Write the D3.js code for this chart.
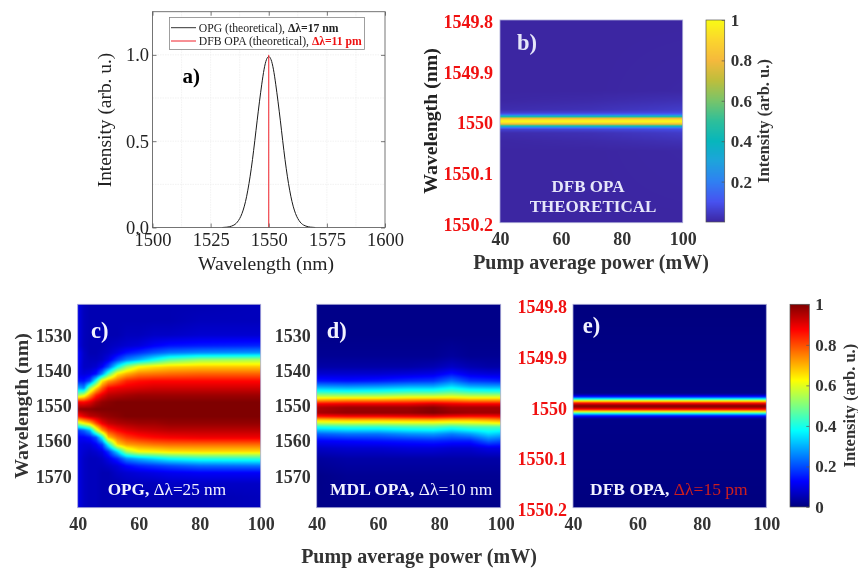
<!DOCTYPE html>
<html><head><meta charset="utf-8">
<script src="https://cdn.jsdelivr.net/npm/d3@7"></script>
<style>
html,body{margin:0;padding:0;background:#fff}
svg{display:block;font-family:"Liberation Serif",serif;filter:blur(0.35px)}
svg .domain{display:none}
</style></head><body><div id="chart"></div>
<script>
// ---------- panel a ----------
const spectrumWavelengths = [1530,1532,1534,1535,1536,1537,1538,1539,1540,1541,1542,1543,1544,1545,1546,1547,1548,1549,1550,1551,1552,1553,1554,1555,1556,1557,1558,1559,1560,1561,1562,1563,1564,1565,1566,1568,1570];
const spectrumOPG = [0,.002,.008,.014,.024,.041,.065,.101,.150,.216,.297,.393,.503,.618,.728,.83,.917,.972,.99,.972,.917,.83,.728,.618,.503,.393,.297,.216,.150,.101,.065,.041,.024,.014,.008,.002,0];
const lineDFBx = [1550,1550];
const lineDFBy = [0,1];
const aXTicks = [1500,1525,1550,1575,1600];
const aYTicks = [0,0.5,1];
// ---------- panel b (DFB OPA theoretical) ----------
const bPowers = [40,70,100];
const bWavelengths = [1549.8,1549.94,1549.96,1549.977,1549.984,1549.987,1549.990,1549.992,1549.994,1549.997,1550,1550.003,1550.006,1550.008,1550.010,1550.013,1550.016,1550.023,1550.04,1550.06,1550.2];
const bIntensity = [
 [0,0,.003,.015,.06,.16,.36,.56,.76,.93,1,.93,.76,.56,.36,.16,.06,.015,.003,0,0],
 [0,0,.01,.025,.07,.17,.36,.56,.76,.93,1,.93,.76,.56,.36,.17,.07,.025,.01,0,0],
 [0,.004,.025,.05,.085,.18,.37,.57,.77,.93,1,.93,.77,.57,.37,.18,.085,.05,.025,.004,0]
];
// ---------- panel c (OPG) ----------
const cPowers = [40,42,44,46,48,50,53,56,60,65,70,80,100];
const cWavelengths = [1521,1526,1530,1533,1535,1537,1539,1541,1543,1545,1547,1549,1551,1553,1555,1557,1559,1561,1563,1565,1567,1569,1572,1576,1579];
const cIntensity = [
 [.10,.10,.10,.10,.13,.13,.12,.11,.15,.30,.52,.88,.98,.85,.55,.18,.12,.10,.10,.10,.10,.10,.10,.10,.10],
 [.06,.06,.06,.06,.07,.07,.07,.09,.14,.26,.58,.87,.99,.90,.62,.22,.12,.09,.08,.07,.07,.07,.07,.07,.07],
 [.05,.05,.05,.05,.05,.06,.07,.10,.20,.52,.72,.90,.99,.94,.68,.30,.14,.09,.07,.06,.06,.06,.06,.06,.06],
 [.05,.05,.05,.05,.05,.06,.08,.14,.40,.66,.84,.95,1,.95,.80,.55,.20,.12,.08,.06,.06,.06,.06,.06,.06],
 [.05,.05,.05,.05,.06,.07,.12,.26,.64,.78,.90,.98,1,.97,.89,.72,.38,.18,.10,.07,.06,.05,.05,.05,.05],
 [.05,.05,.05,.06,.07,.10,.20,.44,.72,.87,.94,.99,1,.98,.93,.82,.68,.38,.17,.10,.07,.05,.05,.05,.05],
 [.05,.05,.05,.07,.10,.18,.38,.64,.78,.89,.95,1,1,.99,.95,.87,.77,.66,.34,.16,.09,.07,.05,.05,.05],
 [.05,.05,.06,.08,.14,.25,.52,.70,.84,.90,.96,1,1,1,.96,.90,.82,.72,.54,.26,.13,.08,.06,.05,.05],
 [.05,.05,.06,.09,.17,.30,.62,.75,.86,.91,.97,1,1,1,.97,.92,.85,.74,.62,.30,.16,.09,.06,.05,.05],
 [.05,.05,.07,.12,.21,.38,.65,.76,.87,.92,.97,1,1,1,.97,.93,.87,.76,.63,.34,.18,.10,.06,.05,.05],
 [.05,.05,.07,.14,.24,.46,.67,.77,.87,.92,.97,1,1,1,.98,.94,.88,.77,.65,.38,.20,.11,.07,.05,.05],
 [.05,.06,.08,.15,.26,.52,.68,.78,.87,.92,.97,1,1,1,.98,.94,.89,.77,.66,.41,.23,.12,.07,.05,.05],
 [.06,.06,.08,.16,.27,.54,.68,.78,.87,.92,.97,1,1,1,.98,.94,.89,.77,.66,.42,.24,.12,.07,.06,.06]
];
// ---------- panel d (MDL OPA) ----------
const dPowers = [40,50,60,70,78,84,90,96,100];
const dWavelengths = [1521,1530,1536,1539,1541,1543,1544.5,1546,1547.5,1548.5,1549.5,1550.5,1552,1553,1554,1555,1556,1558,1560,1562,1565,1570,1579];
const dIntensity = [
 [.01,.01,.02,.04,.08,.15,.27,.40,.58,.72,.88,.95,.96,.86,.68,.56,.40,.22,.12,.07,.03,.01,.01],
 [.01,.01,.02,.04,.08,.14,.26,.39,.58,.74,.89,.97,.98,.88,.70,.57,.42,.24,.13,.08,.04,.02,.01],
 [.01,.01,.02,.04,.08,.15,.27,.40,.58,.74,.89,.97,.98,.88,.70,.57,.42,.24,.14,.08,.04,.02,.01],
 [.01,.01,.02,.04,.09,.17,.29,.42,.60,.75,.89,.97,.98,.89,.71,.58,.44,.27,.15,.09,.04,.02,.01],
 [.01,.01,.02,.05,.10,.18,.29,.42,.60,.76,.91,.99,1,.90,.72,.58,.45,.28,.16,.09,.04,.02,.01],
 [.01,.01,.03,.07,.14,.24,.34,.45,.61,.75,.89,.96,.98,.88,.70,.57,.42,.25,.15,.08,.04,.02,.01],
 [.01,.01,.02,.05,.10,.18,.29,.42,.59,.73,.88,.96,.97,.87,.70,.58,.45,.28,.15,.08,.04,.02,.01],
 [.01,.01,.02,.04,.09,.17,.28,.41,.59,.73,.88,.96,.97,.87,.72,.60,.45,.34,.22,.10,.04,.02,.01],
 [.01,.01,.02,.04,.09,.16,.28,.41,.59,.73,.88,.96,.97,.88,.74,.62,.45,.32,.20,.10,.04,.02,.01]
];
// ---------- panel e (DFB OPA) ----------
const ePowers = [40,100];
const eWavelengths = [1549.8,1549.974,1549.978,1549.982,1549.986,1549.990,1549.993,1549.996,1550,1550.004,1550.007,1550.010,1550.014,1550.018,1550.022,1550.026,1550.2];
const eIntensity = [
 [0,.01,.06,.18,.40,.65,.82,.93,1,.93,.82,.65,.40,.18,.06,.01,0],
 [0,.01,.06,.18,.40,.65,.82,.93,1,.93,.82,.65,.40,.18,.06,.01,0]
];
// ---------- ticks and colour maps ----------
const powerTicks = [40,60,80,100];
const nmTicks = [1530,1540,1550,1560,1570];
const pmTicks = [1549.8,1549.9,1550,1550.1,1550.2];
const barTicksB = [.2,.4,.6,.8,1];
const barTicksE = [0,.2,.4,.6,.8,1];
const jetStops = [0,.125,.375,.625,.875,1];
const jetColors = ["#00007f","#0000ff","#00ffff","#ffff00","#ff0000","#7f0000"];
const parulaStops = [0,.1,.2,.3,.4,.5,.6,.7,.8,.9,1];
const parulaColors = ["#3c26a2","#4752f0","#2f80f2","#1ea3dc","#07b6bc","#2ebf9a","#78c46a","#bdbe3c","#f5b93c","#fbd52d","#f9fb15"];

const jet = d3.scaleLinear().domain(jetStops).range(jetColors).clamp(true);
const parula = d3.scaleLinear().domain(parulaStops).range(parulaColors).clamp(true);

const W = 858, H = 568;
const svg = d3.select("#chart").append("svg").attr("width",W).attr("height",H).attr("viewBox",`0 0 ${W} ${H}`);
const GREY = "#333333", RED = "#f01010";

function sample(xs, ys, m, x, y){
  const i = Math.max(0, Math.min(xs.length-2, d3.bisectRight(xs,x)-1));
  const j = Math.max(0, Math.min(ys.length-2, d3.bisectRight(ys,y)-1));
  const tx = Math.max(0,Math.min(1,(x-xs[i])/(xs[i+1]-xs[i])));
  const ty = Math.max(0,Math.min(1,(y-ys[j])/(ys[j+1]-ys[j])));
  const a = m[i][j]*(1-ty)+m[i][j+1]*ty, b = m[i+1][j]*(1-ty)+m[i+1][j+1]*ty;
  return a*(1-tx)+b*tx;
}
function paint(width,height,fn){
  const c = document.createElement("canvas"); c.width=width; c.height=height;
  const ctx = c.getContext("2d");
  for(let py=0;py<height;py++) for(let px=0;px<width;px++){
    ctx.fillStyle = fn(px+.5,py+.5); ctx.fillRect(px,py,1,1);
  }
  return c.toDataURL();
}
function heat(o){
  const g = svg.append("g");
  const x = d3.scaleLinear().domain([40,100]).range([o.x0,o.x1]);
  const y = d3.scaleLinear().domain(o.yDomain).range([o.y0,o.y1]);
  const w = Math.round(o.x1-o.x0), h = Math.round(o.y1-o.y0);
  const href = paint(w,h,(px,py)=>o.color(sample(o.powers,o.wl,o.m,x.invert(o.x0+px),y.invert(o.y0+py))));
  g.append("image").attr("x",o.x0).attr("y",o.y0).attr("width",o.x1-o.x0).attr("height",o.y1-o.y0).attr("preserveAspectRatio","none").attr("href",href);
  g.append("rect").attr("x",o.x0).attr("y",o.y0).attr("width",o.x1-o.x0).attr("height",o.y1-o.y0).attr("fill","none").attr("stroke","#a9a9d6").attr("stroke-width",.8);
  const ax = g.append("g").attr("transform",`translate(0,${o.y1})`).call(d3.axisBottom(x).tickValues(powerTicks).tickSize(0).tickPadding(10).tickFormat(d3.format("d")));
  ax.selectAll("text").attr("fill",GREY).attr("font-size",18).attr("font-weight","bold").attr("font-family","Liberation Serif");
  const ay = g.append("g").attr("transform",`translate(${o.x0},0)`).call(d3.axisLeft(y).tickValues(o.yTicks).tickSize(0).tickPadding(o.pad).tickFormat(d=>String(d)));
  ay.selectAll("text").attr("fill",o.tickColor).attr("font-size",18).attr("font-weight","bold").attr("font-family","Liberation Serif").attr("dy",o.tickDy);
  return {x,y};
}
function colorbar(o){
  const g = svg.append("g");
  const y = d3.scaleLinear().domain([0,1]).range([o.y1,o.y0]);
  const w = Math.round(o.x1-o.x0), h = Math.round(o.y1-o.y0);
  const href = paint(w,h,(px,py)=>o.color(y.invert(o.y0+py)));
  g.append("image").attr("x",o.x0).attr("y",o.y0).attr("width",o.x1-o.x0).attr("height",o.y1-o.y0).attr("preserveAspectRatio","none").attr("href",href);
  g.append("rect").attr("x",o.x0).attr("y",o.y0).attr("width",o.x1-o.x0).attr("height",o.y1-o.y0).attr("fill","none").attr("stroke","#555").attr("stroke-width",.7);
  const ay = g.append("g").attr("transform",`translate(${o.x1},0)`).call(d3.axisRight(y).tickValues(o.ticks).tickSize(-3).tickPadding(o.pad).tickFormat(d=>String(d)));
  ay.selectAll("line").attr("stroke","#555").attr("stroke-width",.7);
  ay.selectAll("text").attr("fill",GREY).attr("font-size",17).attr("font-weight","bold").attr("font-family","Liberation Serif");
  label(o.labelX,(o.y0+o.y1)/2,"Intensity (arb. u.)",{size:16.5,weight:"bold",fill:GREY,rotate:true});
}
function label(x,y,t,s={}){
  const e = svg.append("text").attr("font-size",s.size||16).attr("font-weight",s.weight||"normal").attr("fill",s.fill||"#000").attr("text-anchor",s.anchor||"middle");
  if(s.rotate) e.attr("transform",`translate(${x},${y}) rotate(-90)`); else e.attr("x",x).attr("y",y);
  if(Array.isArray(t)) t.forEach(p=>e.append("tspan").attr("font-weight",p.weight||"normal").attr("fill",p.fill||s.fill||"#000").text(p.text));
  else e.text(t);
  return e;
}

// ---------- panel a ----------
(function(){
  const x0=152.5,x1=385,y0=11.7,y1=227.5;
  const x=d3.scaleLinear().domain([1500,1600]).range([x0,x1]);
  const y=d3.scaleLinear().domain([0,1.25]).range([y1,y0]);
  const g=svg.append("g");
  const gx=d3.range(1512.5,1600,12.5), gy=d3.range(.25,1.25,.25);
  g.selectAll(".gx").data(gx).join("line").attr("x1",d=>x(d)).attr("x2",d=>x(d)).attr("y1",y0).attr("y2",y1).attr("stroke","#ececec").attr("stroke-width",.7).attr("stroke-dasharray","1.5 1");
  g.selectAll(".gy").data(gy).join("line").attr("y1",d=>y(d)).attr("y2",d=>y(d)).attr("x1",x0).attr("x2",x1).attr("stroke","#ececec").attr("stroke-width",.7).attr("stroke-dasharray","1.5 1");
  const line=d3.line().x(d=>x(d[0])).y(d=>y(d[1])).curve(d3.curveMonotoneX);
  g.append("path").attr("d",line(d3.zip(spectrumWavelengths,spectrumOPG))).attr("fill","none").attr("stroke","#1a1a1a").attr("stroke-width",1);
  g.append("path").attr("d",d3.line().x(d=>x(d[0])).y(d=>y(d[1]))(d3.zip(lineDFBx,lineDFBy))).attr("fill","none").attr("stroke","#f0202a").attr("stroke-width",1);
  g.append("rect").attr("x",x0).attr("y",y0).attr("width",x1-x0).attr("height",y1-y0).attr("fill","none").attr("stroke","#666").attr("stroke-width",.9);
  const ax=g.append("g").attr("transform",`translate(0,${y1})`).call(d3.axisBottom(x).tickValues(aXTicks).tickSize(-4).tickPadding(5).tickFormat(d3.format("d")));
  const ay=g.append("g").attr("transform",`translate(${x0},0)`).call(d3.axisLeft(y).tickValues(aYTicks).tickSize(-4).tickPadding(3.5).tickFormat(d3.format(".1f")));
  g.append("g").attr("transform",`translate(0,${y0})`).call(d3.axisTop(x).tickValues(aXTicks).tickSize(-4).tickFormat(""));
  g.append("g").attr("transform",`translate(${x1},0)`).call(d3.axisRight(y).tickValues(aYTicks).tickSize(-4).tickFormat(""));
  g.selectAll("g.tick line").attr("stroke","#555").attr("stroke-width",.8);
  [ax,ay].forEach(a=>a.selectAll("text").attr("fill","#222").attr("font-size",18.5).attr("font-family","Liberation Serif"));
  label(266,270,"Wavelength (nm)",{size:19.6,fill:"#222"});
  label(111,120,"Intensity (arb. u.)",{size:19.4,fill:"#222",rotate:true});
  label(182.5,83,"a)",{size:21,weight:"bold",anchor:"start"});
  // legend
  g.append("rect").attr("x",169.5).attr("y",17.5).attr("width",195).attr("height",32).attr("fill","#fff").attr("stroke","#888").attr("stroke-width",.8);
  g.append("line").attr("x1",171).attr("x2",196).attr("y1",27.7).attr("y2",27.7).attr("stroke","#333").attr("stroke-width",1);
  g.append("line").attr("x1",171).attr("x2",196).attr("y1",41).attr("y2",41).attr("stroke","#f0202a").attr("stroke-width",1);
  label(198.7,31.5,[{text:"OPG (theoretical), "},{text:"Δλ=17 nm",weight:"bold"}],{size:11.7,anchor:"start",fill:"#222"});
  label(198.7,45,[{text:"DFB OPA (theoretical), "},{text:"Δλ=11 pm",weight:"bold",fill:"#ee1111"}],{size:11.7,anchor:"start",fill:"#222"});
})();

// ---------- panel b ----------
heat({x0:500,x1:682.7,y0:20,y1:222.7,yDomain:[1549.8,1550.2],yTicks:pmTicks,powers:bPowers,wl:bWavelengths,m:bIntensity,color:parula,pad:7,tickColor:RED,tickDy:"0.42em"});
colorbar({x0:706,x1:724.7,y0:20,y1:222,color:parula,ticks:barTicksB,pad:6,labelX:769});
label(517,50,"b)",{size:22.5,weight:"bold",fill:"#e6e6fa",anchor:"start"});
label(588,191.7,"DFB OPA",{size:17,weight:"bold",fill:"#e6e6fa"});
label(593,211.7,"THEORETICAL",{size:17,weight:"bold",fill:"#e6e6fa"});
label(437,121,"Wavelength (nm)",{size:19.8,weight:"bold",fill:"#222",rotate:true});
label(591,269,"Pump average power (mW)",{size:20,weight:"bold",fill:GREY});

// ---------- panel c ----------
heat({x0:77.7,x1:260.7,y0:304.3,y1:507.7,yDomain:[1521.3,1579],yTicks:nmTicks,powers:cPowers,wl:cWavelengths,m:cIntensity,color:jet,pad:6,tickColor:GREY,tickDy:"0.34em"});
label(91,338,"c)",{size:22.5,weight:"bold",fill:"#f2f2ff",anchor:"start"});
label(107.7,495,[{text:"OPG, ",weight:"bold"},{text:"Δλ=25 nm"}],{size:17.2,fill:"#f2f2ff",anchor:"start"});
label(28,406,"Wavelength (nm)",{size:19.8,weight:"bold",fill:GREY,rotate:true});

// ---------- panel d ----------
heat({x0:316.7,x1:500.7,y0:304.3,y1:507.7,yDomain:[1521.3,1579],yTicks:nmTicks,powers:dPowers,wl:dWavelengths,m:dIntensity,color:jet,pad:6,tickColor:GREY,tickDy:"0.34em"});
label(326.7,338,"d)",{size:22.5,weight:"bold",fill:"#f2f2ff",anchor:"start"});
label(330,495,[{text:"MDL OPA, ",weight:"bold"},{text:"Δλ=10 nm"}],{size:17.5,fill:"#f2f2ff",anchor:"start"});

// ---------- panel e ----------
heat({x0:573,x1:766.3,y0:304.3,y1:507.7,yDomain:[1549.8,1550.2],yTicks:pmTicks,powers:ePowers,wl:eWavelengths,m:eIntensity,color:jet,pad:6,tickColor:RED,tickDy:"0.45em"});
label(582.7,333,"e)",{size:22.5,weight:"bold",fill:"#f2f2ff",anchor:"start"});
label(590,495,[{text:"DFB OPA, ",weight:"bold"},{text:"Δλ=15 pm",fill:"#cc1f1f"}],{size:17.5,fill:"#f2f2ff",anchor:"start"});
colorbar({x0:790,x1:809.3,y0:304.3,y1:507,color:jet,ticks:barTicksE,pad:6,labelX:855});

label(419,563,"Pump average power (mW)",{size:20,weight:"bold",fill:GREY});
</script></body></html>
